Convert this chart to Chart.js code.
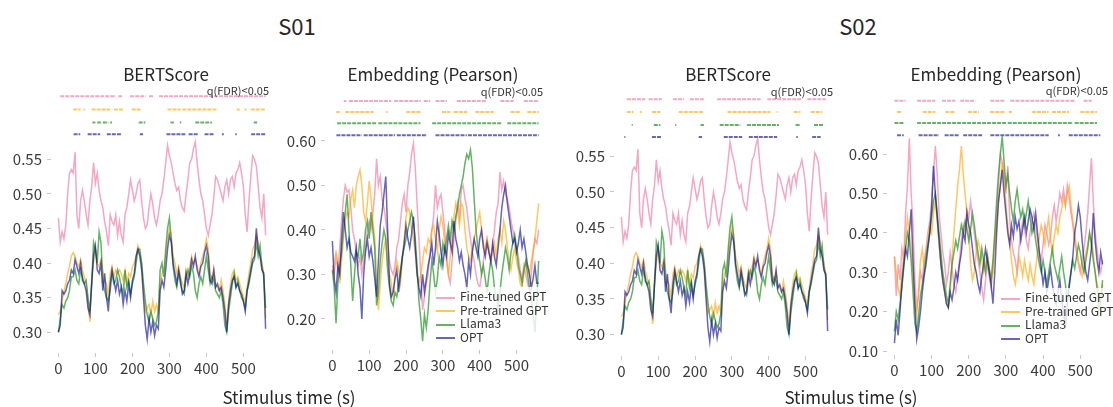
<!DOCTYPE html>
<html>
<head>
<meta charset="utf-8">
<script src="https://cdn.jsdelivr.net/npm/chart.js@4.4.1/dist/chart.umd.min.js"></script>
<style>
  body { margin: 0; background: #fff; }
  #fig { position: relative; width: 1113px; height: 407px; overflow: hidden;
         font-family: 'Noto Sans CJK KR', 'Noto Sans', sans-serif; color: #262626; }
  canvas { position: absolute; }
  .txt { position: absolute; white-space: nowrap; line-height: 1; transform: translate(-50%, -50%); }
  .q { position: absolute; white-space: nowrap; line-height: 1; font-size: 11px; transform: translate(-100%, -50%); color: #333; }
  .legend { position: absolute; background: rgba(255,255,255,0.8); font-size: 12px; line-height: 13.5px;
            padding: 2px 2px 2px 3px; color: #333; }
  .legend div { white-space: nowrap; }
  .legend span { display: inline-block; width: 19px; height: 2px; vertical-align: middle; margin-right: 5px; }
</style>
</head>
<body>
<div id="fig">
  <canvas id="p1"></canvas>
  <canvas id="p2"></canvas>
  <canvas id="p3"></canvas>
  <canvas id="p4"></canvas>

  <div class="txt" style="left:297px; top:25px; font-size:22px;">S01</div>
  <div class="txt" style="left:858px; top:25px; font-size:22px;">S02</div>
  <div class="txt" style="left:166px; top:73px; font-size:17px;">BERTScore</div>
  <div class="txt" style="left:433px; top:73px; font-size:17px;">Embedding (Pearson)</div>
  <div class="txt" style="left:728px; top:73px; font-size:17px;">BERTScore</div>
  <div class="txt" style="left:996px; top:73px; font-size:17px;">Embedding (Pearson)</div>
  <div class="txt" style="left:289px; top:396px; font-size:17px;">Stimulus time (s)</div>
  <div class="txt" style="left:851px; top:396px; font-size:17px;">Stimulus time (s)</div>

  <div class="q" style="left:269px; top:90px;">q(FDR)&lt;0.05</div>
  <div class="q" style="left:543px; top:91px;">q(FDR)&lt;0.05</div>
  <div class="q" style="left:833px; top:91px;">q(FDR)&lt;0.05</div>
  <div class="q" style="left:1108px; top:90px;">q(FDR)&lt;0.05</div>

  <div class="legend" id="leg2" style="left:433px; top:287px; width:103px;"></div>
  <div class="legend" id="leg4" style="left:998px; top:288px; width:100px;"></div>
</div>

<script>
// one sample every 5 s, from 0 to 560 s
const TIME_STEP = 5;
const xTicks = [0, 100, 200, 300, 400, 500];
const bertTicks = [0.30, 0.35, 0.40, 0.45, 0.50, 0.55];
const embTicksS01 = [0.20, 0.30, 0.40, 0.50, 0.60];
const embTicksS02 = [0.10, 0.20, 0.30, 0.40, 0.50, 0.60];
const modelNames = ["Fine-tuned GPT", "Pre-trained GPT", "Llama3", "OPT"];
const modelColors = ["rgba(240,120,160,0.65)", "rgba(255,165,0,0.62)", "rgba(40,150,40,0.72)", "rgba(0,0,140,0.6)"];

// BERTScore (same curves in S01 and S02 panels)
const bertFT = [
  0.465,0.43,0.445,0.435,0.455,0.50,0.53,0.535,0.53,0.56,
  0.47,0.45,0.49,0.505,0.49,0.47,0.455,0.49,0.51,0.545,
  0.515,0.53,0.505,0.49,0.48,0.46,0.445,0.425,0.47,0.46,
  0.455,0.47,0.44,0.46,0.44,0.43,0.47,0.48,0.50,0.52,
  0.505,0.49,0.50,0.515,0.52,0.49,0.465,0.45,0.455,0.48,
  0.50,0.485,0.465,0.455,0.47,0.49,0.50,0.52,0.545,0.57,
  0.555,0.545,0.53,0.515,0.505,0.51,0.49,0.48,0.475,0.50,
  0.52,0.545,0.55,0.565,0.575,0.545,0.52,0.50,0.49,0.47,
  0.45,0.44,0.455,0.47,0.495,0.525,0.52,0.51,0.50,0.49,
  0.51,0.52,0.50,0.52,0.525,0.51,0.53,0.535,0.545,0.53,
  0.51,0.47,0.445,0.49,0.525,0.555,0.55,0.54,0.51,0.48,
  0.465,0.50,0.44];
const bertPT = [
  0.325,0.33,0.345,0.36,0.37,0.385,0.395,0.41,0.415,0.41,
  0.40,0.395,0.405,0.39,0.38,0.37,0.345,0.315,0.38,0.40,
  0.42,0.40,0.395,0.405,0.39,0.375,0.37,0.35,0.385,0.395,
  0.38,0.39,0.385,0.39,0.385,0.375,0.39,0.37,0.385,0.38,
  0.395,0.40,0.41,0.425,0.415,0.40,0.36,0.33,0.335,0.34,
  0.325,0.345,0.33,0.34,0.33,0.37,0.385,0.39,0.41,0.435,
  0.45,0.44,0.41,0.40,0.385,0.395,0.38,0.37,0.365,0.39,
  0.38,0.395,0.41,0.40,0.405,0.395,0.385,0.40,0.41,0.42,
  0.435,0.42,0.385,0.375,0.39,0.37,0.365,0.36,0.375,0.36,
  0.34,0.31,0.345,0.37,0.385,0.39,0.375,0.38,0.37,0.36,
  0.35,0.345,0.365,0.385,0.40,0.42,0.425,0.44,0.43,0.41,
  0.40,0.385,0.32];
const bertLL = [
  0.30,0.32,0.34,0.335,0.345,0.35,0.36,0.38,0.38,0.39,
  0.375,0.37,0.39,0.38,0.37,0.375,0.35,0.33,0.37,0.43,
  0.42,0.40,0.445,0.43,0.375,0.36,0.35,0.345,0.36,0.385,
  0.37,0.375,0.39,0.38,0.365,0.355,0.39,0.365,0.375,0.355,
  0.37,0.38,0.40,0.42,0.42,0.40,0.37,0.345,0.325,0.315,
  0.33,0.32,0.31,0.315,0.33,0.39,0.40,0.38,0.42,0.45,
  0.465,0.435,0.395,0.375,0.365,0.385,0.37,0.36,0.355,0.38,
  0.39,0.38,0.395,0.385,0.36,0.35,0.37,0.38,0.37,0.39,
  0.41,0.39,0.37,0.38,0.375,0.36,0.355,0.35,0.36,0.34,
  0.31,0.30,0.33,0.35,0.37,0.385,0.365,0.375,0.36,0.35,
  0.345,0.335,0.36,0.37,0.385,0.40,0.405,0.43,0.41,0.425,
  0.395,0.38,0.335];
const bertOPT = [
  0.30,0.31,0.36,0.355,0.36,0.37,0.375,0.39,0.385,0.405,
  0.395,0.385,0.40,0.375,0.37,0.36,0.335,0.325,0.37,0.41,
  0.425,0.39,0.385,0.40,0.36,0.385,0.35,0.33,0.37,0.39,
  0.375,0.36,0.375,0.355,0.365,0.34,0.36,0.345,0.37,0.35,
  0.375,0.385,0.41,0.42,0.41,0.39,0.35,0.31,0.29,0.32,
  0.30,0.315,0.295,0.31,0.305,0.36,0.375,0.365,0.39,0.42,
  0.44,0.43,0.40,0.385,0.37,0.39,0.375,0.355,0.36,0.385,
  0.37,0.385,0.405,0.395,0.41,0.39,0.38,0.395,0.40,0.415,
  0.425,0.41,0.375,0.37,0.39,0.365,0.37,0.36,0.365,0.35,
  0.33,0.30,0.34,0.36,0.375,0.38,0.365,0.37,0.36,0.355,
  0.345,0.33,0.36,0.375,0.39,0.405,0.41,0.45,0.42,0.41,
  0.39,0.385,0.305];

// Embedding (Pearson), S01
const embS01FT = [
  0.32,0.30,0.34,0.31,0.36,0.42,0.47,0.50,0.485,0.49,
  0.45,0.40,0.38,0.35,0.32,0.34,0.30,0.33,0.36,0.40,
  0.42,0.40,0.44,0.48,0.56,0.50,0.52,0.47,0.45,0.42,
  0.38,0.33,0.31,0.30,0.32,0.36,0.38,0.42,0.46,0.48,
  0.44,0.50,0.53,0.57,0.595,0.54,0.46,0.38,0.30,0.22,
  0.25,0.28,0.30,0.35,0.40,0.43,0.50,0.45,0.47,0.48,
  0.44,0.40,0.34,0.30,0.28,0.33,0.38,0.42,0.46,0.43,
  0.49,0.50,0.47,0.45,0.41,0.38,0.35,0.33,0.30,0.28,
  0.27,0.30,0.33,0.36,0.38,0.35,0.33,0.36,0.40,0.44,
  0.46,0.53,0.49,0.51,0.48,0.47,0.45,0.42,0.40,0.38,
  0.36,0.34,0.31,0.29,0.32,0.30,0.28,0.26,0.30,0.35,
  0.38,0.37,0.40];
const embS01PT = [
  0.30,0.33,0.35,0.33,0.28,0.33,0.38,0.42,0.44,0.43,
  0.47,0.49,0.45,0.50,0.52,0.535,0.50,0.44,0.42,0.46,
  0.51,0.47,0.42,0.38,0.30,0.22,0.28,0.33,0.36,0.38,
  0.32,0.30,0.28,0.25,0.30,0.33,0.31,0.28,0.33,0.38,
  0.43,0.45,0.44,0.40,0.38,0.35,0.30,0.28,0.30,0.33,
  0.36,0.35,0.38,0.37,0.40,0.41,0.38,0.35,0.40,0.43,
  0.41,0.37,0.33,0.30,0.34,0.40,0.43,0.46,0.44,0.41,
  0.46,0.45,0.40,0.36,0.34,0.33,0.36,0.38,0.40,0.42,
  0.44,0.40,0.37,0.35,0.38,0.36,0.33,0.35,0.37,0.34,
  0.38,0.40,0.37,0.42,0.40,0.36,0.33,0.31,0.34,0.36,
  0.33,0.31,0.28,0.27,0.30,0.33,0.32,0.30,0.33,0.35,
  0.38,0.42,0.46];
const embS01LL = [
  0.31,0.27,0.19,0.28,0.32,0.35,0.40,0.44,0.48,0.40,
  0.32,0.24,0.30,0.35,0.34,0.38,0.33,0.35,0.40,0.42,
  0.38,0.44,0.40,0.36,0.23,0.26,0.33,0.37,0.40,0.38,
  0.31,0.27,0.24,0.23,0.26,0.25,0.28,0.31,0.34,0.36,
  0.38,0.40,0.42,0.44,0.42,0.38,0.32,0.24,0.20,0.15,
  0.21,0.18,0.22,0.28,0.33,0.30,0.26,0.29,0.34,0.32,
  0.37,0.35,0.38,0.41,0.38,0.42,0.40,0.43,0.45,0.48,
  0.50,0.52,0.55,0.57,0.56,0.58,0.54,0.47,0.40,0.36,
  0.33,0.30,0.32,0.29,0.26,0.30,0.33,0.31,0.27,0.25,
  0.22,0.26,0.30,0.33,0.36,0.34,0.31,0.35,0.37,0.39,
  0.36,0.32,0.30,0.28,0.31,0.33,0.30,0.27,0.25,0.21,
  0.17,0.24,0.33];
const embS01OPT = [
  0.375,0.29,0.26,0.32,0.30,0.38,0.44,0.40,0.36,0.38,
  0.35,0.34,0.33,0.36,0.30,0.27,0.20,0.30,0.35,0.38,
  0.34,0.36,0.33,0.29,0.25,0.33,0.41,0.44,0.48,0.52,
  0.40,0.28,0.25,0.26,0.29,0.31,0.26,0.30,0.34,0.37,
  0.41,0.38,0.36,0.39,0.43,0.36,0.30,0.27,0.25,0.30,
  0.26,0.29,0.32,0.34,0.37,0.32,0.36,0.42,0.39,0.35,
  0.32,0.36,0.34,0.39,0.37,0.35,0.42,0.38,0.36,0.33,
  0.35,0.32,0.30,0.27,0.33,0.30,0.35,0.38,0.36,0.34,
  0.38,0.40,0.36,0.34,0.37,0.35,0.33,0.37,0.34,0.32,
  0.36,0.40,0.45,0.48,0.50,0.46,0.43,0.40,0.37,0.38,
  0.35,0.37,0.40,0.36,0.38,0.35,0.32,0.30,0.27,0.29,
  0.32,0.28,0.28];

// Embedding (Pearson), S02
const embS02FT = [
  0.34,0.24,0.32,0.28,0.36,0.33,0.45,0.52,0.64,0.50,
  0.42,0.28,0.21,0.24,0.30,0.28,0.33,0.36,0.40,0.43,
  0.48,0.55,0.62,0.55,0.45,0.40,0.35,0.32,0.27,0.30,
  0.35,0.31,0.27,0.25,0.29,0.33,0.38,0.42,0.40,0.46,
  0.44,0.48,0.43,0.40,0.36,0.33,0.30,0.26,0.23,0.28,
  0.32,0.29,0.26,0.31,0.38,0.45,0.52,0.60,0.58,0.55,
  0.50,0.57,0.44,0.38,0.35,0.33,0.30,0.36,0.40,0.43,
  0.41,0.38,0.36,0.40,0.43,0.45,0.42,0.38,0.35,0.33,
  0.37,0.42,0.40,0.37,0.39,0.44,0.47,0.43,0.46,0.50,
  0.48,0.51,0.47,0.52,0.49,0.45,0.42,0.38,0.35,0.32,
  0.30,0.33,0.36,0.40,0.45,0.52,0.59,0.48,0.40,0.36,
  0.32,0.30,0.33];
const embS02PT = [
  0.34,0.30,0.26,0.24,0.30,0.34,0.39,0.44,0.40,0.36,
  0.30,0.22,0.19,0.26,0.33,0.36,0.31,0.34,0.38,0.42,
  0.40,0.45,0.48,0.43,0.37,0.32,0.28,0.25,0.22,0.21,
  0.25,0.33,0.40,0.46,0.52,0.56,0.62,0.55,0.50,0.45,
  0.40,0.32,0.28,0.30,0.35,0.38,0.36,0.33,0.30,0.32,
  0.35,0.31,0.28,0.30,0.36,0.42,0.48,0.52,0.58,0.54,
  0.47,0.42,0.38,0.33,0.29,0.27,0.30,0.34,0.32,0.29,
  0.33,0.30,0.28,0.32,0.29,0.27,0.31,0.35,0.39,0.42,
  0.40,0.37,0.41,0.44,0.38,0.35,0.39,0.42,0.40,0.44,
  0.46,0.49,0.47,0.50,0.52,0.47,0.43,0.40,0.36,0.33,
  0.31,0.29,0.32,0.35,0.37,0.40,0.38,0.35,0.30,0.27,
  0.25,0.22,0.27];
const embS02LL = [
  0.15,0.20,0.18,0.22,0.26,0.31,0.36,0.40,0.38,0.33,
  0.25,0.17,0.15,0.19,0.24,0.27,0.30,0.34,0.37,0.40,
  0.44,0.48,0.50,0.45,0.40,0.35,0.30,0.27,0.24,0.22,
  0.27,0.32,0.35,0.38,0.36,0.39,0.42,0.40,0.43,0.41,
  0.38,0.41,0.45,0.42,0.38,0.35,0.32,0.36,0.33,0.30,
  0.34,0.31,0.28,0.33,0.40,0.48,0.55,0.60,0.645,0.58,
  0.52,0.55,0.50,0.46,0.43,0.48,0.51,0.47,0.44,0.46,
  0.42,0.45,0.48,0.44,0.40,0.42,0.38,0.35,0.32,0.30,
  0.33,0.30,0.27,0.30,0.33,0.36,0.32,0.30,0.28,0.31,
  0.34,0.30,0.27,0.23,0.27,0.30,0.33,0.31,0.34,0.37,
  0.35,0.32,0.30,0.33,0.36,0.40,0.37,0.33,0.30,0.26,
  0.20,0.23,0.28];
const embS02OPT = [
  0.12,0.18,0.14,0.20,0.27,0.32,0.36,0.34,0.40,0.46,
  0.33,0.22,0.13,0.16,0.20,0.25,0.29,0.32,0.36,0.40,
  0.46,0.57,0.50,0.44,0.38,0.32,0.28,0.25,0.22,0.21,
  0.25,0.23,0.26,0.30,0.28,0.32,0.35,0.40,0.38,0.45,
  0.42,0.40,0.36,0.32,0.30,0.27,0.25,0.29,0.32,0.36,
  0.33,0.30,0.27,0.22,0.30,0.40,0.48,0.52,0.56,0.50,
  0.45,0.40,0.37,0.42,0.39,0.44,0.41,0.43,0.38,0.41,
  0.44,0.40,0.43,0.46,0.44,0.41,0.45,0.40,0.35,0.31,
  0.27,0.30,0.25,0.28,0.31,0.27,0.24,0.22,0.25,0.28,
  0.23,0.20,0.16,0.22,0.26,0.30,0.34,0.40,0.43,0.47,
  0.44,0.38,0.33,0.30,0.28,0.32,0.36,0.45,0.38,0.33,
  0.30,0.35,0.32];

// significant stretches (q(FDR) < 0.05), [start s, end s]
const sigS01BertFT = [[5,155],[162,172],[194,236],[245,258],[272,560]];
const sigS01BertPT = [[40,60],[68,72],[90,140],[150,175],[198,222],[295,330],[335,430],[482,490],[503,508],[520,560]];
const sigS01BertLL = [[92,100],[105,115],[120,135],[140,145],[217,235],[303,312],[328,332],[370,415],[528,537]];
const sigS01BertOPT = [[41,59],[79,113],[131,172],[220,229],[292,343],[352,379],[395,420],[442,447],[478,482],[521,560]];

const sigS01EmbFT = [[31,38],[45,160],[168,240],[248,266],[280,311],[338,420],[456,492],[520,560]];
const sigS01EmbPT = [[11,20],[35,112],[146,150],[201,239],[298,320],[330,366],[388,438],[484,511],[529,560]];
const sigS01EmbLL = [[13,120],[125,239],[271,461],[475,560]];
const sigS01EmbOPT = [[11,80],[85,170],[175,257],[280,365],[368,560]];

const sigS02BertFT = [[15,65],[74,110],[140,170],[186,224],[260,378],[396,490],[505,555]];
const sigS02BertPT = [[15,33],[50,55],[83,106],[156,224],[288,405],[422,425],[468,486],[514,545]];
const sigS02BertLL = [[28,31],[88,106],[146,149],[215,224],[267,323],[341,428],[473,486],[523,550]];
const sigS02BertOPT = [[8,11],[83,110],[210,219],[278,328],[346,423],[475,479],[518,541]];

const sigS02EmbFT = [[0,30],[61,110],[128,164],[177,218],[258,298],[312,487],[509,531]];
const sigS02EmbPT = [[7,20],[76,110],[137,164],[198,227],[258,298],[308,316],[370,415],[424,470],[500,545]];
const sigS02EmbLL = [[0,25],[61,300],[305,480],[485,545]];
const sigS02EmbOPT = [[7,25],[65,120],[135,175],[185,236],[258,415],[440,445],[469,554]];

Chart.defaults.font.family = "'Noto Sans CJK KR', 'Noto Sans', sans-serif";

function toPoints(values) {
  return values.map((v, i) => ({ x: i * TIME_STEP, y: v }));
}

function sigPoints(intervals, level) {
  const pts = [];
  intervals.forEach(([a, b]) => {
    pts.push({ x: a, y: level }, { x: b, y: level }, { x: b, y: null });
  });
  return pts;
}

const AXW = 56, AXH = 30, PADT = 20;

function drawPanel(id, area, yMin, yMax, yTicks, series, sig, levels) {
  const cv = document.getElementById(id);
  const w = Math.round(AXW + area.w), h = Math.round(PADT + area.h + AXH);
  cv.width = w; cv.height = h;
  cv.style.width = w + "px"; cv.style.height = h + "px";
  cv.style.left = Math.round(area.x - AXW) + "px";
  cv.style.top = Math.round(area.y - PADT) + "px";

  const datasets = [];
  series.forEach((vals, k) => {
    datasets.push({
      data: toPoints(vals),
      borderColor: modelColors[k],
      borderWidth: 1.5,
      pointRadius: 0,
      order: 4 - k
    });
  });
  // significance rows: thin dotted strokes above the curves
  sig.forEach((iv, k) => {
    datasets.push({
      data: sigPoints(iv, levels[k]),
      borderColor: modelColors[k],
      borderWidth: 2,
      borderDash: [4, 1],
      borderCapStyle: "butt",
      pointRadius: 0,
      spanGaps: false,
      order: 0
    });
  });

  new Chart(cv, {
    type: "line",
    data: { datasets },
    options: {
      responsive: false,
      animation: false,
      events: [],
      layout: { padding: { top: PADT, left: 0, right: 0, bottom: 0 } },
      plugins: { legend: { display: false }, tooltip: { enabled: false } },
      scales: {
        x: {
          type: "linear", min: -20, max: 580,
          afterFit: s => { s.height = AXH; },
          afterBuildTicks: s => { s.ticks = xTicks.map(v => ({ value: v })); },
          grid: { drawOnChartArea: false, drawTicks: true, tickLength: 4, color: "#c8c8c8" },
          border: { display: false },
          ticks: { color: "#3a3a3a", font: { size: 15 }, padding: 2, maxRotation: 0, autoSkip: false }
        },
        y: {
          min: yMin, max: yMax,
          afterFit: s => { s.width = AXW; },
          afterBuildTicks: s => { s.ticks = yTicks.map(v => ({ value: v })); },
          grid: { drawOnChartArea: false, drawTicks: true, tickLength: 4, color: "#c8c8c8" },
          border: { display: false },
          ticks: { color: "#3a3a3a", font: { size: 15 }, padding: 5, callback: v => v.toFixed(2) }
        }
      }
    }
  });
}

drawPanel("p1", { x: 50.6, y: 89.8, w: 222, h: 263 }, 0.27, 0.65, bertTicks,
  [bertFT, bertPT, bertLL, bertOPT],
  [sigS01BertFT, sigS01BertPT, sigS01BertLL, sigS01BertOPT],
  [0.641, 0.622, 0.603, 0.586]);

drawPanel("p2", { x: 324.6, y: 92, w: 220.8, h: 258 }, 0.13, 0.71, embTicksS01,
  [embS01FT, embS01PT, embS01LL, embS01OPT],
  [sigS01EmbFT, sigS01EmbPT, sigS01EmbLL, sigS01EmbOPT],
  [0.690, 0.665, 0.640, 0.613]);

drawPanel("p3", { x: 613.6, y: 84.8, w: 220.8, h: 270.6 }, 0.27, 0.65, bertTicks,
  [bertFT, bertPT, bertLL, bertOPT],
  [sigS02BertFT, sigS02BertPT, sigS02BertLL, sigS02BertOPT],
  [0.630, 0.612, 0.594, 0.577]);

drawPanel("p4", { x: 886.6, y: 91, w: 223.2, h: 264 }, 0.09, 0.76, embTicksS02,
  [embS02FT, embS02PT, embS02LL, embS02OPT],
  [sigS02EmbFT, sigS02EmbPT, sigS02EmbLL, sigS02EmbOPT],
  [0.735, 0.707, 0.679, 0.648]);

// legends drawn over the plot, lower right
["leg2", "leg4"].forEach(id => {
  const box = document.getElementById(id);
  modelNames.forEach((name, k) => {
    const row = document.createElement("div");
    const sw = document.createElement("span");
    sw.style.background = modelColors[k];
    row.appendChild(sw);
    row.appendChild(document.createTextNode(name));
    box.appendChild(row);
  });
});
</script>
</body>
</html>
